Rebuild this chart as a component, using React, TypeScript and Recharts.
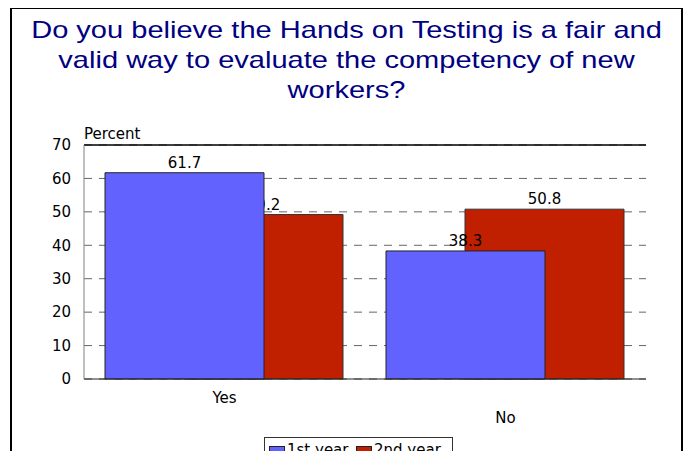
import { Bar, BarChart, CartesianGrid, LabelList, ReferenceLine, XAxis, YAxis } from "recharts";

const categories = ["Yes", "No"];
const firstYear = [61.7, 38.3];
const secondYear = [49.2, 50.8];
const seriesNames = ["1st year", "2nd year"];
const yTicks = [0, 10, 20, 30, 40, 50, 60, 70];
const titleLines = [
  "Do you believe the Hands on Testing is a fair and",
  "valid way to evaluate the competency of new",
  "workers?"
];

const BLUE = "#6262FF";
const RED = "#C01F00";
const SMALL_FONT = "'DejaVu Sans', sans-serif";

const data = categories.map((name, i) => ({ name, first: firstYear[i], second: secondYear[i] }));

// Excel staggers category labels: every second one is dropped a row
function StaggerTick(props: any) {
  const { x, y, payload, index } = props;
  return (
    <text x={x} y={y + (index % 2 === 0 ? 24 : 44)} textAnchor="middle" fill="#000" fontSize={15} fontFamily={SMALL_FONT}>
      {payload.value}
    </text>
  );
}

export default function App() {
  return (
    <div style={{ position: "relative", width: 691, height: 459, margin: -8, overflow: "hidden", background: "#fff" }}>
      <div
        style={{
          position: "absolute",
          left: 10,
          top: 7,
          width: 673,
          height: 470,
          border: "2px solid #000",
          boxSizing: "border-box"
        }}
      />
      <div
        style={{
          position: "absolute",
          left: 10,
          top: 15,
          width: 673,
          textAlign: "center",
          fontFamily: "'Liberation Sans', Arial, sans-serif",
          fontSize: 24,
          lineHeight: "30px",
          color: "#000080",
          transform: "scaleX(1.21)",
          transformOrigin: "center"
        }}
      >
        {titleLines.map((line) => (
          <div key={line}>{line}</div>
        ))}
      </div>
      <div style={{ position: "absolute", left: 84, top: 125, fontFamily: SMALL_FONT, fontSize: 15, color: "#000" }}>
        Percent
      </div>

      <div style={{ position: "absolute", left: 0, top: 0 }}>
        <BarChart width={691} height={459} data={data} margin={{ top: 145, right: 45, bottom: 0, left: 0 }}>
          <CartesianGrid xAxisId="cat" vertical={false} stroke="#666" strokeDasharray="8 7" />
          <XAxis
            xAxisId="cat"
            dataKey="name"
            height={80}
            axisLine={{ stroke: "#222" }}
            tickLine={false}
            tickSize={0}
            tickMargin={0}
            interval={0}
            tick={<StaggerTick />}
          />
          <XAxis xAxisId="a" dataKey="name" hide height={0} padding={{ left: -40, right: 40 }} />
          <XAxis xAxisId="b" dataKey="name" hide height={0} padding={{ left: 39, right: -39 }} />
          <YAxis
            width={84}
            domain={[0, 70]}
            ticks={yTicks}
            interval={0}
            axisLine={{ stroke: "#808080" }}
            tickLine={false}
            tickSize={0}
            tickMargin={13}
            tick={{ fill: "#000", fontSize: 15, fontFamily: SMALL_FONT }}
          />
          <YAxis
            yAxisId="r"
            orientation="right"
            width={0}
            domain={[0, 70]}
            tick={false}
            tickLine={false}
            axisLine={{ stroke: "#808080" }}
          />
          <ReferenceLine xAxisId="cat" y={70} stroke="#000" strokeWidth={1.5} />
          {/* 2nd year sits behind 1st year, its label partly hidden like in Excel */}
          <Bar xAxisId="b" dataKey="second" name={seriesNames[1]} fill={RED} stroke="#333" barSize={159} isAnimationActive={false} {...({ zIndex: 310 } as any)}>
            <LabelList dataKey="second" position="top" offset={5} fill="#000" fontSize={15} fontFamily={SMALL_FONT} {...({ zIndex: 320 } as any)} />
          </Bar>
          <Bar xAxisId="a" dataKey="first" name={seriesNames[0]} fill={BLUE} stroke="#222" barSize={159} isAnimationActive={false} {...({ zIndex: 330 } as any)}>
            <LabelList dataKey="first" position="top" offset={5} fill="#000" fontSize={15} fontFamily={SMALL_FONT} {...({ zIndex: 340 } as any)} />
          </Bar>
        </BarChart>
      </div>

      <div
        style={{
          position: "absolute",
          left: 264,
          top: 437,
          width: 189,
          height: 30,
          border: "1px solid #333",
          boxSizing: "border-box",
          background: "#fff",
          fontFamily: SMALL_FONT,
          fontSize: 15,
          lineHeight: "17px",
          color: "#000"
        }}
      >
        {seriesNames.map((name, i) => (
          <div key={name} style={{ position: "absolute", left: 4 + i * 87, top: 4, display: "flex", alignItems: "center", whiteSpace: "nowrap" }}>
            <span
              style={{
                display: "inline-block",
                width: 16,
                height: 9,
                background: i === 0 ? BLUE : RED,
                border: "1px solid #222",
                boxSizing: "border-box",
                marginRight: 2
              }}
            />
            <span>{name}</span>
          </div>
        ))}
      </div>
    </div>
  );
}
